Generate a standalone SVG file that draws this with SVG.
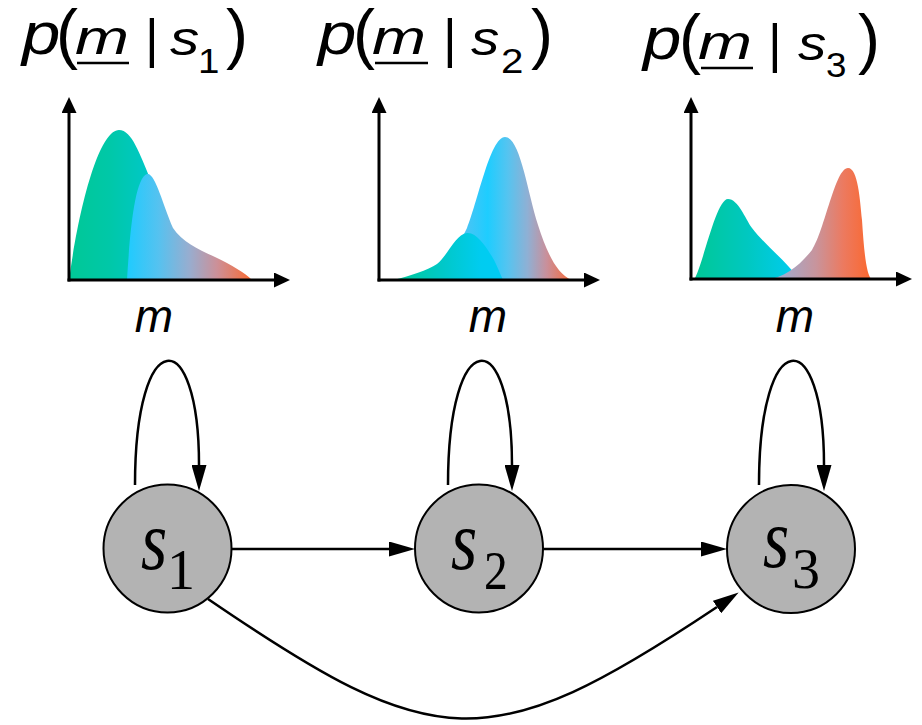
<svg xmlns="http://www.w3.org/2000/svg" width="922" height="725" viewBox="0 0 922 725">
<style>
.ax{stroke:#000;stroke-width:3;fill:none;marker-end:url(#axh)}
.edge{stroke:#000;stroke-width:2.5;fill:none;marker-end:url(#ah)}
.node circle{fill:#b3b3b3;stroke:#000;stroke-width:2}
.sans{font-family:"Liberation Sans",Arial,sans-serif;fill:#000}
.it{font-style:italic}
.serif{font-family:"Liberation Serif","Times New Roman",serif;fill:#000}
.ul{stroke:#000;stroke-width:2.4}
</style>
<defs>
<marker id="ah" markerUnits="userSpaceOnUse" markerWidth="26" markerHeight="15" viewBox="0 0 26 15" refX="0" refY="7.5" orient="auto"><path d="M0,0 L26,7.5 L0,15 z" fill="#000"/></marker>
<marker id="axh" markerUnits="userSpaceOnUse" markerWidth="16" markerHeight="15" viewBox="0 0 16 15" refX="0" refY="7.5" orient="auto"><path d="M0,0 L16,7.5 L0,15 z" fill="#000"/></marker>
<linearGradient id="g1a" gradientUnits="userSpaceOnUse" x1="69" y1="0" x2="150" y2="0"><stop offset="0" stop-color="#00c896"/><stop offset="0.5" stop-color="#00c8a8"/><stop offset="1" stop-color="#00c8c8"/></linearGradient>
<linearGradient id="g1b" gradientUnits="userSpaceOnUse" x1="127" y1="0" x2="252" y2="0"><stop offset="0" stop-color="#1ecbff"/><stop offset="0.25" stop-color="#55c2f0"/><stop offset="0.5" stop-color="#98adcf"/><stop offset="0.72" stop-color="#cc9098"/><stop offset="1" stop-color="#fa6a32"/></linearGradient>
<linearGradient id="g2a" gradientUnits="userSpaceOnUse" x1="455" y1="0" x2="572" y2="0"><stop offset="0" stop-color="#5dc0f0"/><stop offset="0.28" stop-color="#1ecdff"/><stop offset="0.45" stop-color="#55c4f0"/><stop offset="0.62" stop-color="#8fb0d4"/><stop offset="0.78" stop-color="#c8909c"/><stop offset="1" stop-color="#f86a38"/></linearGradient>
<linearGradient id="g2b" gradientUnits="userSpaceOnUse" x1="393" y1="0" x2="503" y2="0"><stop offset="0" stop-color="#00c896"/><stop offset="0.45" stop-color="#00c8c8"/><stop offset="0.8" stop-color="#00ccf0"/><stop offset="1" stop-color="#00ccf5"/></linearGradient>
<linearGradient id="g3a" gradientUnits="userSpaceOnUse" x1="694" y1="0" x2="800" y2="0"><stop offset="0" stop-color="#00c896"/><stop offset="0.5" stop-color="#00c8c0"/><stop offset="1" stop-color="#00ccf5"/></linearGradient>
<linearGradient id="g3b" gradientUnits="userSpaceOnUse" x1="780" y1="0" x2="870" y2="0"><stop offset="0" stop-color="#a0acd0"/><stop offset="0.4" stop-color="#c8949c"/><stop offset="0.7" stop-color="#ec7a60"/><stop offset="1" stop-color="#fa6830"/></linearGradient>
</defs>

<g id="plot-s1">
<path d="M69,280 C80,200 100,130 119,130 C132,130 140,155 150,178 L160,280 Z" fill="url(#g1a)"/>
<path d="M127,280 C130,230 135,178 147,174 C155,172 163,205 173,228 C182,242 200,250 215,257 C232,265 245,273 252,280 Z" fill="url(#g1b)"/>
<line class="ax" x1="69" y1="281.5" x2="69" y2="113"/>
<line class="ax" x1="67.5" y1="280" x2="274" y2="280"/>
<text class="sans it" font-size="60" transform="translate(22,54) scale(1.15,1)">p</text>
<text class="sans" font-size="66" transform="translate(56,56)">(</text>
<text class="sans it" font-size="48" transform="translate(75,54) scale(1.35,1)">m</text>
<line class="ul" x1="77" y1="63" x2="129" y2="63"/>
<text class="sans" font-size="53" transform="translate(145,57)">|</text>
<text class="sans it" font-size="48" transform="translate(170,55) scale(1.22,1)">s</text>
<text class="sans" font-size="35" transform="translate(198,73) scale(1.1,1)">1</text>
<text class="sans" font-size="66" transform="translate(226,56)">)</text>
<text class="sans it" font-size="46" x="154" y="332" text-anchor="middle">m</text>
</g>

<g id="plot-s2">
<path d="M440,280 C455,255 462,238 467,228 C477,205 490,137 505,137 C520,137 527,190 538,225 C546,250 556,274 572,280 Z" fill="url(#g2a)"/>
<path d="M393,280 C410,276 428,270 437,264 C448,255 456,234 467,233 C477,232 487,248 494,260 C498,268 501,276 503,280 Z" fill="url(#g2b)"/>
<line class="ax" x1="379" y1="281.5" x2="379" y2="113"/>
<line class="ax" x1="377.5" y1="280" x2="584" y2="280"/>
<text class="sans it" font-size="60" transform="translate(318,54) scale(1.15,1)">p</text>
<text class="sans" font-size="66" transform="translate(353,56)">(</text>
<text class="sans it" font-size="48" transform="translate(372,54) scale(1.35,1)">m</text>
<line class="ul" x1="375" y1="63" x2="428" y2="63"/>
<text class="sans" font-size="53" transform="translate(443,57)">|</text>
<text class="sans it" font-size="48" transform="translate(471,55) scale(1.18,1)">s</text>
<text class="sans" font-size="35" transform="translate(501,73) scale(1.15,1)">2</text>
<text class="sans" font-size="66" transform="translate(531,56)">)</text>
<text class="sans it" font-size="46" x="488" y="332" text-anchor="middle">m</text>
</g>

<g id="plot-s3">
<path d="M694,280 C703,265 716,199 728,199 C738,199 745,218 752,228 C765,245 785,260 800,280 Z" fill="url(#g3a)"/>
<path d="M765,280 C785,278 800,265 812,250 C825,230 835,168 848,168 C858,168 860,200 862,220 C864,250 866,275 872,280 Z" fill="url(#g3b)"/>
<line class="ax" x1="691" y1="280.5" x2="691" y2="113"/>
<line class="ax" x1="689.5" y1="279" x2="896" y2="279"/>
<text class="sans it" font-size="60" transform="translate(643,59) scale(1.15,1)">p</text>
<text class="sans" font-size="66" transform="translate(679,61)">(</text>
<text class="sans it" font-size="48" transform="translate(698,59) scale(1.35,1)">m</text>
<line class="ul" x1="701" y1="68" x2="753" y2="68"/>
<text class="sans" font-size="53" transform="translate(768,62)">|</text>
<text class="sans it" font-size="48" transform="translate(798,60) scale(1.18,1)">s</text>
<text class="sans" font-size="35" transform="translate(826,77) scale(1.05,1)">3</text>
<text class="sans" font-size="66" transform="translate(858,61)">)</text>
<text class="sans it" font-size="46" x="795" y="332" text-anchor="middle">m</text>
</g>

<g id="connectors">
<path class="edge" d="M135,485 C135,323 199,323 199,465"/>
<path class="edge" d="M448,485 C448,323 512,323 512,465"/>
<path class="edge" d="M759,485 C759,323 824,323 824,465"/>
<path class="edge" d="M232,549 L389,549"/>
<path class="edge" d="M543,549 L701,549"/>
<path class="edge" d="M208,599 C435,754 488,760 717,607"/>
</g>

<g id="node-s1" class="node">
<circle cx="167.5" cy="548.5" r="64"/>
<text class="serif it" font-size="84" transform="translate(141,569) scale(0.8,1)">s</text>
<text class="serif" font-size="56" x="167" y="589">1</text>
</g>
<g id="node-s2" class="node">
<circle cx="479" cy="548.5" r="64"/>
<text class="serif it" font-size="84" transform="translate(451,569) scale(0.8,1)">s</text>
<text class="serif" font-size="56" transform="translate(484,589) scale(0.85,1)">2</text>
</g>
<g id="node-s3" class="node">
<circle cx="791" cy="549" r="64"/>
<text class="serif it" font-size="84" transform="translate(763,567) scale(0.8,1)">s</text>
<text class="serif" font-size="56" x="792" y="588">3</text>
</g>
</svg>
